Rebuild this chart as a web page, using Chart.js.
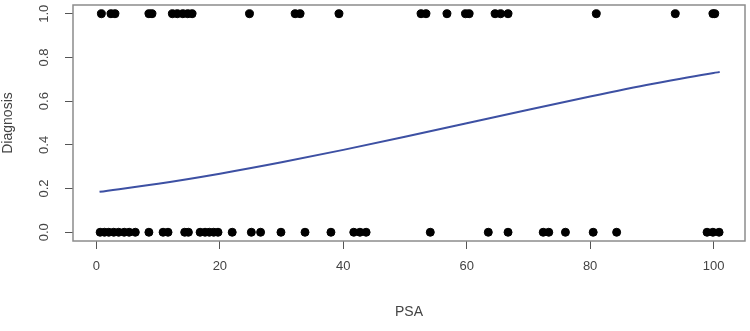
<!DOCTYPE html>
<html>
<head>
<meta charset="utf-8">
<script src="https://cdn.jsdelivr.net/npm/chart.js@4/dist/chart.umd.min.js"></script>
<style>
  html, body { margin: 0; padding: 0; background: #fff; }
  #wrap { width: 750px; height: 331px; }
</style>
</head>
<body>
<div id="wrap"><canvas id="psaChart"></canvas></div>
<script>
// PSA values of patients with diagnosis = 1 (top row)
var psaPositive = [0.8, 2.35, 3.0, 8.5, 9.0, 12.3, 13.1, 14.0, 14.8, 15.5, 24.8, 32.2, 33.0,
  39.3, 52.6, 53.4, 56.8, 59.8, 60.4, 64.6, 65.5, 66.7, 81.0, 93.8, 99.9, 100.2];
// PSA values of patients with diagnosis = 0 (bottom row)
var psaNegative = [0.6, 1.3, 2.0, 2.8, 3.6, 4.5, 5.3, 6.3, 8.5, 10.8, 11.6, 14.3, 14.9,
  16.8, 17.6, 18.3, 19.0, 19.7, 22.0, 25.1, 26.6, 29.9, 33.8, 38.0, 41.7, 42.7, 43.7,
  54.1, 63.5, 66.7, 72.4, 73.3, 76.0, 80.5, 84.3, 98.95, 99.9, 100.9];
// fitted curve
var fitPSA  = [0.5, 10, 20, 30, 40, 50, 60, 70, 80, 90, 100, 101];
var fitProb = [0.185, 0.222, 0.268, 0.320, 0.377, 0.437, 0.499, 0.561, 0.621, 0.678, 0.729, 0.733];

var xTicks = [0, 20, 40, 60, 80, 100];
var yTicks = [0, 0.2, 0.4, 0.6, 0.8, 1.0];

var pts = psaPositive.map(function (v) { return { x: v, y: 1 }; })
  .concat(psaNegative.map(function (v) { return { x: v, y: 0 }; }));
var curve = fitPSA.map(function (v, i) { return { x: v, y: fitProb[i] }; });

// R style box + rotated y labels
var rBox = {
  id: 'rBox',
  afterDraw: function (chart) {
    var ctx = chart.ctx, a = chart.chartArea, ys = chart.scales.y;
    ctx.save();
    ctx.strokeStyle = '#8c8c8c';
    ctx.lineWidth = 1.5;
    ctx.strokeRect(a.left, a.top, a.right - a.left, a.bottom - a.top);
    ctx.fillStyle = '#444';
    ctx.font = '13px "Liberation Sans", Arial, sans-serif';
    ctx.textAlign = 'center';
    ctx.textBaseline = 'middle';
    yTicks.forEach(function (v) {
      var py = ys.getPixelForValue(v);
      ctx.save();
      ctx.translate(44, py);
      ctx.rotate(-Math.PI / 2);
      ctx.fillText(v.toFixed(1), 0, 0);
      ctx.restore();
    });
    ctx.restore();
  }
};

var ctx = document.getElementById('psaChart').getContext('2d');
var chart = new Chart(ctx, {
  type: 'scatter',
  data: {
    datasets: [{
      label: 'fit',
      data: curve,
      showLine: true,
      borderColor: '#3d50a3',
      borderWidth: 2,
      pointRadius: 0,
      cubicInterpolationMode: 'monotone',
      order: 0
    }, {
      label: 'Diagnosis',
      data: pts,
      backgroundColor: '#000',
      borderColor: '#000',
      pointRadius: 4,
      order: 1
    }]
  },
  options: {
    responsive: true,
    maintainAspectRatio: false,
    animation: false,
    layout: { padding: { top: 3, right: 1, left: 0, bottom: 0 } },
    plugins: { legend: { display: false }, tooltip: { enabled: false } },
    scales: {
      x: {
        type: 'linear',
        min: -3.8,
        max: 105.1,
        afterBuildTicks: function (s) { s.ticks = xTicks.map(function (v) { return { value: v }; }); },
        afterFit: function (s) { s.height = 90; },
        grid: { drawOnChartArea: false, tickLength: 8, tickColor: '#555', lineWidth: 1 },
        border: { display: false },
        ticks: {
          padding: 10,
          color: '#444',
          font: { family: '"Liberation Sans", Arial, sans-serif', size: 13 },
          maxRotation: 0
        },
        title: {
          display: true,
          text: 'PSA',
          color: '#444',
          font: { family: '"Liberation Sans", Arial, sans-serif', size: 14 },
          padding: { top: 0, bottom: 10 }
        }
      },
      y: {
        type: 'linear',
        min: -0.04,
        max: 1.04,
        afterBuildTicks: function (s) { s.ticks = yTicks.map(function (v) { return { value: v }; }); },
        afterFit: function (s) { s.width = 73; },
        grid: { drawOnChartArea: false, tickLength: 8, tickColor: '#555', lineWidth: 1 },
        border: { display: false },
        ticks: { display: false },
        title: {
          display: true,
          text: 'Diagnosis',
          color: '#444',
          font: { family: '"Liberation Sans", Arial, sans-serif', size: 14 },
          padding: { top: 0, bottom: 0 }
        }
      }
    }
  },
  plugins: [rBox]
});
</script>
</body>
</html>
